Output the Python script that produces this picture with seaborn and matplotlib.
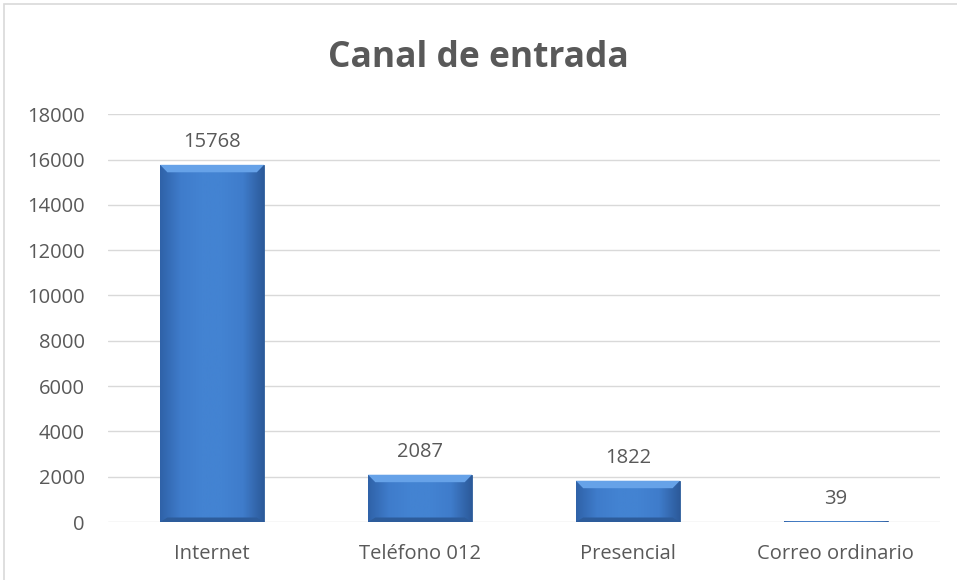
import numpy as np
import pandas as pd
import seaborn as sns
import matplotlib
matplotlib.use("Agg")
import matplotlib.pyplot as plt
from matplotlib.patches import Rectangle, Polygon
from matplotlib.colors import LinearSegmentedColormap

# Data
categories = ["Internet", "Teléfono 012", "Presencial", "Correo ordinario"]
values = [15768, 2087, 1822, 39]
title = "Canal de entrada"

df = pd.DataFrame({"canal": categories, "valor": values})

sns.set_theme(style="white")
plt.rcParams["font.family"] = ["Open Sans", "DejaVu Sans"]
text_color = "#595959"

fig = plt.figure(figsize=(9.57, 5.8), dpi=100)
ax = fig.add_axes([0.113, 0.1, 0.869, 0.703])

sns.barplot(data=df, x="canal", y="valor", color="#3f7dcb", width=0.5,
            saturation=1, edgecolor="#2e5d99", linewidth=0.6, ax=ax)

# bevel-like shading on each bar
cmap = LinearSegmentedColormap.from_list(
    "bevel", ["#2f62a8", "#3f7ccb", "#4383d2", "#4383d2", "#3f7ccb", "#2c5a9a"])
grad = np.linspace(0, 1, 256).reshape(1, -1)
for patch in ax.patches[:len(values)]:
    x0, y0 = patch.get_x(), patch.get_y()
    w, h = patch.get_width(), patch.get_height()
    z = patch.get_zorder()
    im = ax.imshow(grad, cmap=cmap, aspect="auto", extent=[x0, x0 + w, y0, y0 + h],
                   zorder=z + 0.1)
    im.set_clip_path(patch)
    bev = min(h * 0.5, 330)
    # light top bevel
    ax.add_patch(Polygon([(x0, y0 + h), (x0 + w, y0 + h),
                          (x0 + w * 0.93, y0 + h - bev), (x0 + w * 0.07, y0 + h - bev)],
                         closed=True, facecolor="#66a2e8", edgecolor="none", zorder=z + 0.2))
    # dark bottom bevel
    ax.add_patch(Polygon([(x0, y0), (x0 + w, y0),
                          (x0 + w * 0.93, y0 + bev * 0.6), (x0 + w * 0.07, y0 + bev * 0.6)],
                         closed=True, facecolor="#2d5c9b", edgecolor="none", zorder=z + 0.2))

ax.set_xlim(-0.5, 3.5)
ax.set_ylim(0, 18000)
ax.set_yticks(range(0, 18001, 2000))
ax.grid(axis="y", color="#d9d9d9", linewidth=1)
ax.set_axisbelow(True)
for s in ax.spines.values():
    s.set_visible(False)
ax.tick_params(axis="both", length=0, labelsize=14.5, colors=text_color)
ax.tick_params(axis="x", pad=16)
ax.tick_params(axis="y", pad=17)
ax.set_xlabel("")
ax.set_ylabel("")

for i, v in enumerate(values):
    ax.text(i, v + 550, str(v), ha="center", va="bottom", fontsize=14.5, color=text_color)

fig.text(0.5, 0.9, title, ha="center", va="center", fontsize=25.5,
         fontweight="bold", color=text_color)

# chart border
fig.add_artist(Rectangle((4 / 957, -0.05), 1.2, 1.05 - 4 / 580, transform=fig.transFigure,
                         facecolor="none", edgecolor="#d9d9d9", linewidth=1.2))

fig.savefig("out.png", dpi=100, facecolor="white")
